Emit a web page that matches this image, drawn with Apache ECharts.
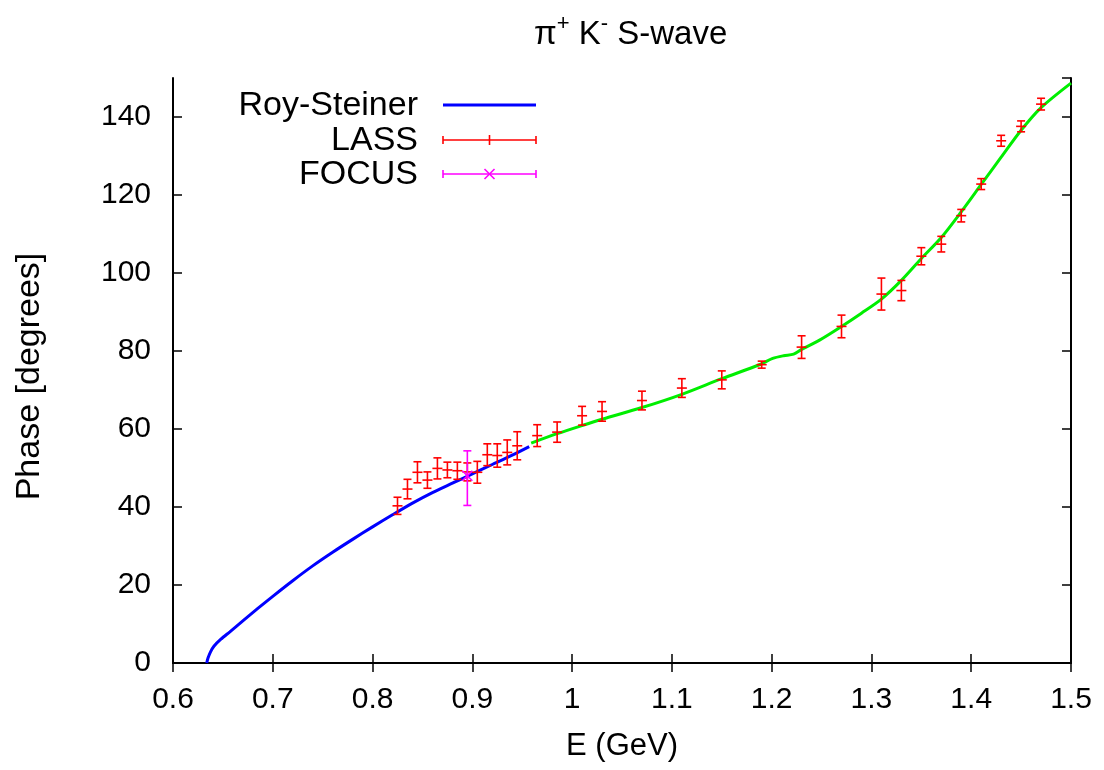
<!DOCTYPE html>
<html>
<head>
<meta charset="utf-8">
<title>pi+ K- S-wave phase</title>
<script src="https://cdn.jsdelivr.net/npm/echarts@6/dist/echarts.min.js"></script>
<style>
  html, body { margin: 0; padding: 0; background: #ffffff; }
  #chart { width: 1104px; height: 770px; }
</style>
</head>
<body>
<div id="chart"></div>
<script>
// Roy-Steiner solution (low-energy curve)
const rsEnergy = [0.6338, 0.635, 0.6375, 0.641, 0.648, 0.657, 0.670, 0.685, 0.700, 0.720, 0.740, 0.760, 0.780, 0.800, 0.820, 0.840, 0.860, 0.880, 0.900, 0.920, 0.940, 0.957];
const rsPhase  = [0.0, 1.2, 2.8, 4.3, 6.1, 8.0, 10.8, 14.0, 17.1, 21.1, 24.9, 28.4, 31.7, 34.9, 38.0, 41.0, 43.7, 46.1, 48.5, 50.9, 53.3, 55.5];

// Continuation curve above ~0.96 GeV
const fitEnergy = [0.959, 0.985, 1.010, 1.030, 1.070, 1.110, 1.150, 1.189, 1.201, 1.212, 1.222, 1.230, 1.248, 1.270, 1.290, 1.310, 1.330, 1.350, 1.370, 1.390, 1.410, 1.430, 1.450, 1.470, 1.500];
const fitPhase  = [56.4, 58.8, 60.9, 62.5, 65.5, 68.9, 72.9, 76.6, 78.1, 78.8, 79.2, 80.4, 82.8, 86.3, 89.7, 93.3, 98.1, 103.7, 109.1, 115.7, 122.7, 129.7, 136.6, 142.4, 148.7];

// LASS measurements: energy, phase and symmetric error
const lassEnergy = [0.825, 0.835, 0.845, 0.855, 0.865, 0.875, 0.885, 0.895, 0.905, 0.915, 0.925, 0.935, 0.945, 0.965, 0.985, 1.01, 1.03, 1.07, 1.11, 1.15, 1.19, 1.23, 1.27, 1.31, 1.33, 1.35, 1.37, 1.39, 1.41, 1.43, 1.45, 1.47];
const lassPhase  = [40.3, 44.6, 48.9, 46.9, 49.9, 49.5, 49.3, 49.0, 48.9, 53.4, 53.2, 54.0, 55.7, 58.3, 59.2, 63.4, 64.5, 67.3, 70.5, 72.6, 76.5, 81.0, 86.3, 94.6, 95.5, 104.3, 107.4, 114.7, 122.8, 133.9, 137.6, 143.3];
const lassError  = [2.2, 2.5, 2.7, 2.1, 2.7, 2.0, 2.2, 2.3, 2.8, 2.8, 3.0, 3.2, 3.6, 2.8, 2.6, 2.4, 2.5, 2.4, 2.4, 2.3, 0.9, 2.9, 2.9, 4.1, 2.6, 2.2, 2.0, 1.6, 1.4, 1.4, 1.4, 1.5];

// FOCUS point: energy, phase, lower and upper ends of the error bar
const focusEnergy = [0.895];
const focusPhase  = [48.0];
const focusLow    = [40.4];
const focusHigh   = [54.4];

// Axis ticks
const xTicks = { min: 0.6, max: 1.5, step: 0.1 };
const yTicks = { min: 0, max: 150, step: 20 };

const FONT = "'Liberation Sans', Arial, Helvetica, sans-serif";
const BLUE = '#0000ff', RED = '#ff0000', MAGENTA = '#ff00ff', GREEN = '#00ee00';

const pairs = (xs, ys) => xs.map((x, i) => [x, ys[i]]);
const lassRows = lassEnergy.map((e, i) => [e, lassPhase[i], lassPhase[i] - lassError[i], lassPhase[i] + lassError[i]]);
const focusRows = focusEnergy.map((e, i) => [e, focusPhase[i], focusLow[i], focusHigh[i]]);

// Error bar with end caps and a point marker ('plus' or 'cross')
function errorBar(color, marker) {
  return function (params, api) {
    const e = api.value(0);
    const c = api.coord([e, api.value(1)]);
    const lo = api.coord([e, api.value(2)]);
    const hi = api.coord([e, api.value(3)]);
    const cap = 4, m = 5;
    const style = { stroke: color, lineWidth: 1.6 };
    const line = (x1, y1, x2, y2) => ({ type: 'line', shape: { x1, y1, x2, y2 }, style });
    const kids = [
      line(lo[0], lo[1], hi[0], hi[1]),
      line(lo[0] - cap, lo[1], lo[0] + cap, lo[1]),
      line(hi[0] - cap, hi[1], hi[0] + cap, hi[1])
    ];
    if (marker === 'plus') {
      kids.push(line(c[0] - m, c[1], c[0] + m, c[1]));
    } else {
      kids.push(line(c[0] - m, c[1] - m, c[0] + m, c[1] + m));
      kids.push(line(c[0] - m, c[1] + m, c[0] + m, c[1] - m));
    }
    return { type: 'group', children: kids };
  };
}

const axisLineStyle = { color: '#000', width: 2 };
const tickStyle = { show: true, inside: true, length: 9, lineStyle: { color: '#000', width: 1.5 } };
const labelFont = { fontFamily: FONT, fontSize: 30, color: '#000' };

// Legend rows (gnuplot style: text right-aligned, sample to the right)
const legendRows = [
  { label: 'Roy-Steiner', color: BLUE, kind: 'line', y: 105 },
  { label: 'LASS', color: RED, kind: 'plus', y: 140 },
  { label: 'FOCUS', color: MAGENTA, kind: 'cross', y: 174 }
];
const legendTextRight = 418, sampleX1 = 443, sampleX2 = 536;
const legendGraphics = [];
legendRows.forEach(r => {
  legendGraphics.push({
    type: 'text', x: legendTextRight, y: r.y + 1,
    style: { text: r.label, fontFamily: FONT, fontSize: 34, fill: '#000', textAlign: 'right', textVerticalAlign: 'middle' }
  });
  if (r.kind === 'line') {
    legendGraphics.push({ type: 'line', shape: { x1: sampleX1, y1: r.y, x2: sampleX2, y2: r.y }, style: { stroke: r.color, lineWidth: 3 } });
  } else {
    const st = { stroke: r.color, lineWidth: 1.6 };
    const mid = (sampleX1 + sampleX2) / 2;
    legendGraphics.push({ type: 'line', shape: { x1: sampleX1, y1: r.y, x2: sampleX2, y2: r.y }, style: st });
    legendGraphics.push({ type: 'line', shape: { x1: sampleX1, y1: r.y - 4, x2: sampleX1, y2: r.y + 4 }, style: st });
    legendGraphics.push({ type: 'line', shape: { x1: sampleX2, y1: r.y - 4, x2: sampleX2, y2: r.y + 4 }, style: st });
    if (r.kind === 'plus') {
      legendGraphics.push({ type: 'line', shape: { x1: mid, y1: r.y - 5, x2: mid, y2: r.y + 5 }, style: st });
    } else {
      legendGraphics.push({ type: 'line', shape: { x1: mid - 5, y1: r.y - 5, x2: mid + 5, y2: r.y + 5 }, style: st });
      legendGraphics.push({ type: 'line', shape: { x1: mid - 5, y1: r.y + 5, x2: mid + 5, y2: r.y - 5 }, style: st });
    }
  }
});

const chart = echarts.init(document.getElementById('chart'), null, { renderer: 'canvas' });
chart.setOption({
  backgroundColor: '#ffffff',
  animation: false,
  title: {
    text: '{m|π}{s|+}{m| K}{s|-}{m| S-wave}',
    left: 529, top: 8,
    textStyle: {
      fontWeight: 'normal',
      rich: {
        m: { fontFamily: FONT, fontSize: 33, fontWeight: 'normal', color: '#000', lineHeight: 38, verticalAlign: 'bottom' },
        s: { fontFamily: FONT, fontSize: 22, fontWeight: 'normal', color: '#000', lineHeight: 38, verticalAlign: 'top' }
      }
    }
  },
  grid: { left: 173, right: 33, top: 78, bottom: 107, containLabel: false },
  xAxis: [
    {
      type: 'value', min: xTicks.min, max: xTicks.max, interval: xTicks.step,
      name: 'E (GeV)', nameLocation: 'middle', nameGap: 68,
      nameTextStyle: { fontFamily: FONT, fontSize: 31, color: '#000' },
      axisLine: { show: true, lineStyle: axisLineStyle },
      axisTick: tickStyle,
      axisLabel: Object.assign({ margin: 22, formatter: v => String(Math.round(v * 10) / 10) }, labelFont),
      splitLine: { show: false }
    },
    {
      type: 'value', position: 'top', min: xTicks.min, max: xTicks.max, interval: xTicks.step,
      axisLine: { show: true, lineStyle: axisLineStyle },
      axisTick: tickStyle, axisLabel: { show: false }, splitLine: { show: false }
    }
  ],
  yAxis: [
    {
      type: 'value', min: yTicks.min, max: yTicks.max, interval: yTicks.step,
      name: 'Phase [degrees]', nameLocation: 'middle', nameGap: 126, nameRotate: 90,
      nameTextStyle: { fontFamily: FONT, fontSize: 34, color: '#000', padding: [0, 12, 0, 0] },
      axisLine: { show: true, lineStyle: axisLineStyle },
      axisTick: tickStyle,
      axisLabel: Object.assign({ margin: 22, showMaxLabel: false }, labelFont),
      splitLine: { show: false }
    },
    {
      type: 'value', position: 'right', min: yTicks.min, max: yTicks.max, interval: yTicks.step,
      axisLine: { show: true, lineStyle: axisLineStyle },
      axisTick: tickStyle, axisLabel: { show: false }, splitLine: { show: false }
    }
  ],
  graphic: legendGraphics,
  series: [
    {
      name: 'Roy-Steiner', type: 'line', data: pairs(rsEnergy, rsPhase),
      smooth: 0.25, showSymbol: false,
      lineStyle: { color: BLUE, width: 3 }, z: 3
    },
    {
      name: 'fit', type: 'line', data: pairs(fitEnergy, fitPhase),
      smooth: 0.3, showSymbol: false,
      lineStyle: { color: GREEN, width: 3 }, z: 3
    },
    {
      name: 'LASS', type: 'custom', data: lassRows,
      encode: { x: 0, y: 1 }, renderItem: errorBar(RED, 'plus'), z: 4
    },
    {
      name: 'FOCUS', type: 'custom', data: focusRows,
      encode: { x: 0, y: 1 }, renderItem: errorBar(MAGENTA, 'cross'), z: 5
    }
  ]
});
</script>
</body>
</html>
